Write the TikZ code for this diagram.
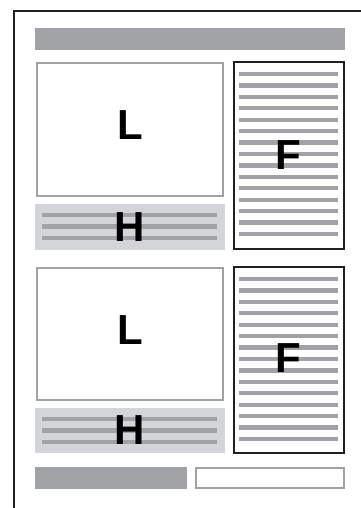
\documentclass[tikz,border=0pt]{standalone}
\usepackage{fontspec}
\setsansfont{Liberation Sans}
\usetikzlibrary{positioning}
\definecolor{bargray}{HTML}{A0A2A5}
\definecolor{panelgray}{HTML}{D4D5D8}
\definecolor{inkblack}{HTML}{231F20}
\tikzset{
  titlebar/.style={rectangle,fill=bargray,inner sep=0pt},
  lbox/.style={rectangle,draw=bargray,line width=1.8pt,fill=white,inner sep=0pt},
  hbox/.style={rectangle,fill=panelgray,inner sep=0pt},
  fbox/.style={rectangle,draw=inkblack,line width=2pt,fill=white,inner sep=0pt},
  rule/.style={bargray,line width=4.2pt},
  letter/.style={inner sep=0pt,text=black,
             font=\sffamily\bfseries\fontsize{42}{42}\selectfont},
  every picture/.style={line cap=butt,line join=miter}}
\begin{document}
\begin{tikzpicture}[x=1pt,y=-1pt]
  \useasboundingbox (0,0) rectangle (360,508);
  \draw[inkblack,line width=2.5pt] (14,510) -- (14,11) -- (362,11);
  \node[titlebar,minimum width=310pt,minimum height=22pt] (title) at (190,39){};
  % upper block
  \node[lbox,minimum width=186pt,minimum height=133pt] (l1) at (130,129.5){};
  \node[hbox,minimum width=190pt,minimum height=46pt] (h1) at (130,227){};
  \node[fbox,minimum width=110pt,minimum height=187pt] (f1) at (289,155.5){};
  % lower block
  \node[lbox,minimum width=186pt,minimum height=132pt] (l2) at (130,334){};
  \node[hbox,minimum width=190pt,minimum height=45pt] (h2) at (130,430.5){};
  \node[fbox,minimum width=110pt,minimum height=186pt] (f2) at (289,360){};
  % text rules
  \foreach \top in {215,419}
    \foreach \i in {0,1,2} \draw[rule] (42,\top+11.5*\i) -- (217,\top+11.5*\i);
  \foreach \top in {74,279}
    \foreach \i in {0,...,14} \draw[rule] (239,\top+11.43*\i) -- (338,\top+11.43*\i);
  % letters
  \node[letter] (tl1) at (130,125){L};
  \node[letter] (th1) at (130,227){H};
  \node[letter] (tf1) at (288,155){F};
  \node[letter] (tl2) at (130,330){L};
  \node[letter] (th2) at (130,430){H};
  \node[letter] (tf2) at (288,358){F};
  % footer
  \node[titlebar,minimum width=152pt,minimum height=22pt] (footbar) at (111,478){};
  \node[lbox,minimum width=148pt,minimum height=20pt] (footbox) at (270,478){};
\end{tikzpicture}
\end{document}
